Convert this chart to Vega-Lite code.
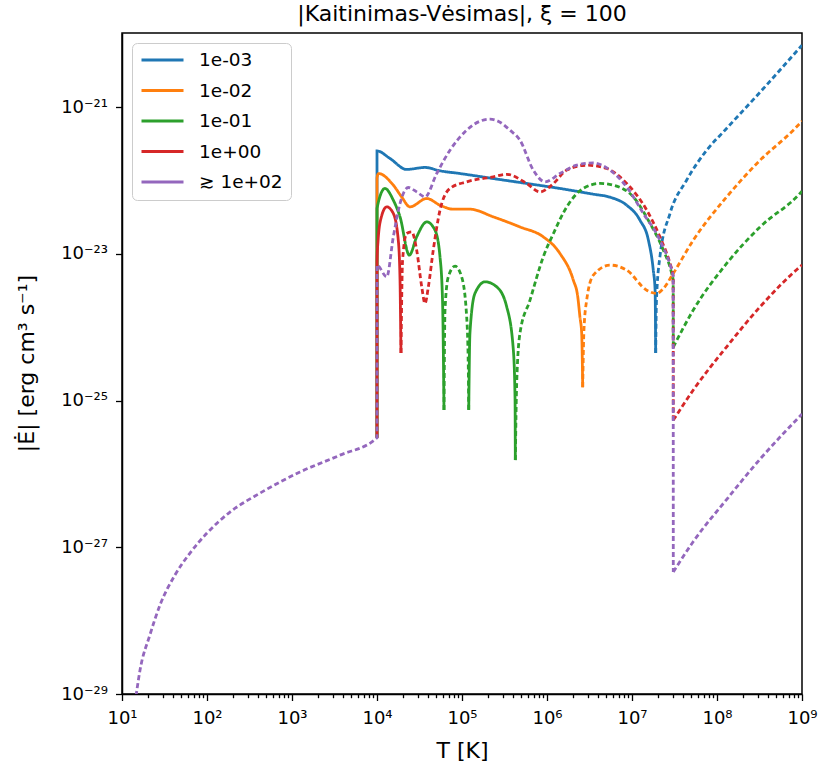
{
  "$schema": "https://vega.github.io/schema/vega-lite/v6.json",
  "width": 680,
  "height": 661,
  "autosize": {"type": "none"},
  "padding": {"left": 122, "top": 33, "right": 21, "bottom": 73},
  "config": {
    "font": "DejaVu Sans",
    "view": {"stroke": "black", "strokeWidth": 1.5},
    "axis": {"grid": false, "domainColor": "black", "domainWidth": 1.5, "tickColor": "black", "tickWidth": 1.3, "labelColor": "black", "titleColor": "black", "labelFont": "DejaVu Sans", "titleFont": "DejaVu Sans", "labelFontSize": 18, "titleFontSize": 22, "titleFontWeight": "normal", "labelOverlap": false, "labelFlush": false}
  },
  "title": {"text": "|Kaitinimas-Vėsimas|, ξ = 100", "fontSize": 22, "fontWeight": "normal", "font": "DejaVu Sans", "color": "black", "baseline": "bottom", "offset": 7, "dy": 22, "anchor": "middle", "frame": "group"},
  "data": {"values": [
    {"s":"≳ 1e+02","g":"p1","k":"dotted","i":0,"T":13.8,"E":5.7e-30},
    {"s":"≳ 1e+02","g":"p1","k":"dotted","i":1,"T":16.3,"E":2.12e-29},
    {"s":"≳ 1e+02","g":"p1","k":"dotted","i":2,"T":21.3,"E":6.37e-29},
    {"s":"≳ 1e+02","g":"p1","k":"dotted","i":3,"T":28.0,"E":1.63e-28},
    {"s":"≳ 1e+02","g":"p1","k":"dotted","i":4,"T":42.0,"E":4.18e-28},
    {"s":"≳ 1e+02","g":"p1","k":"dotted","i":5,"T":63.1,"E":8.34e-28},
    {"s":"≳ 1e+02","g":"p1","k":"dotted","i":6,"T":100,"E":1.56e-27},
    {"s":"≳ 1e+02","g":"p1","k":"dotted","i":7,"T":186.6,"E":3.02e-27},
    {"s":"≳ 1e+02","g":"p1","k":"dotted","i":8,"T":420.7,"E":5.47e-27},
    {"s":"≳ 1e+02","g":"p1","k":"dotted","i":9,"T":1241,"E":1.06e-26},
    {"s":"≳ 1e+02","g":"p1","k":"dotted","i":10,"T":3671,"E":1.8e-26},
    {"s":"≳ 1e+02","g":"p1","k":"dotted","i":11,"T":10000,"E":3.1e-26},
    {"s":"≳ 1e+02","g":"p1","k":"dotted","i":12,"T":10000,"E":7.0e-24},
    {"s":"≳ 1e+02","g":"p1","k":"dotted","i":13,"T":13000,"E":4.84e-24},
    {"s":"≳ 1e+02","g":"p1","k":"dotted","i":14,"T":15560,"E":1.7e-23},
    {"s":"≳ 1e+02","g":"p1","k":"dotted","i":15,"T":18660,"E":4.84e-23},
    {"s":"≳ 1e+02","g":"p1","k":"dotted","i":16,"T":23350,"E":8.0e-23},
    {"s":"≳ 1e+02","g":"p1","k":"dotted","i":17,"T":29300,"E":6.97e-23},
    {"s":"≳ 1e+02","g":"p1","k":"dotted","i":18,"T":36700,"E":5.96e-23},
    {"s":"≳ 1e+02","g":"p1","k":"dotted","i":19,"T":50400,"E":1.24e-22},
    {"s":"≳ 1e+02","g":"p1","k":"dotted","i":20,"T":72200,"E":2.58e-22},
    {"s":"≳ 1e+02","g":"p1","k":"dotted","i":21,"T":113500,"E":4.83e-22},
    {"s":"≳ 1e+02","g":"p1","k":"dotted","i":22,"T":163000,"E":6.41e-22},
    {"s":"≳ 1e+02","g":"p1","k":"dotted","i":23,"T":213500,"E":6.83e-22},
    {"s":"≳ 1e+02","g":"p1","k":"dotted","i":24,"T":280000,"E":6.21e-22},
    {"s":"≳ 1e+02","g":"p1","k":"dotted","i":25,"T":367000,"E":4.83e-22},
    {"s":"≳ 1e+02","g":"p1","k":"dotted","i":26,"T":481000,"E":3.53e-22},
    {"s":"≳ 1e+02","g":"p1","k":"dotted","i":27,"T":690000,"E":1.38e-22},
    {"s":"≳ 1e+02","g":"p1","k":"dotted","i":28,"T":947000,"E":9.55e-23},
    {"s":"≳ 1e+02","g":"p1","k":"dotted","i":29,"T":1420000,"E":1.24e-22},
    {"s":"≳ 1e+02","g":"p1","k":"dotted","i":30,"T":2230000,"E":1.61e-22},
    {"s":"≳ 1e+02","g":"p1","k":"dotted","i":31,"T":3510000,"E":1.73e-22},
    {"s":"≳ 1e+02","g":"p1","k":"dotted","i":32,"T":5510000,"E":1.38e-22},
    {"s":"≳ 1e+02","g":"p1","k":"dotted","i":33,"T":8660000,"E":8.15e-23},
    {"s":"≳ 1e+02","g":"p1","k":"dotted","i":34,"T":13600000,"E":3.54e-23},
    {"s":"≳ 1e+02","g":"p1","k":"dotted","i":35,"T":21300000,"E":1.53e-23},
    {"s":"≳ 1e+02","g":"p1","k":"dotted","i":36,"T":29300000,"E":5.98e-24},
    {"s":"≳ 1e+02","g":"p1","k":"dotted","i":37,"T":30500000,"E":5.0e-24},
    {"s":"≳ 1e+02","g":"p1","k":"dotted","i":38,"T":30600000,"E":4.59e-28},
    {"s":"≳ 1e+02","g":"p2","k":"dotted","i":0,"T":30600000,"E":4.59e-28},
    {"s":"≳ 1e+02","g":"p2","k":"dotted","i":1,"T":52200000,"E":1.18e-27},
    {"s":"≳ 1e+02","g":"p2","k":"dotted","i":2,"T":131000000,"E":4.54e-27},
    {"s":"≳ 1e+02","g":"p2","k":"dotted","i":3,"T":321000000,"E":1.59e-26},
    {"s":"≳ 1e+02","g":"p2","k":"dotted","i":4,"T":1000000000,"E":6.53e-26},

    {"s":"1e-03","g":"b1","k":"solid","i":0,"T":10000,"E":3.1e-26},
    {"s":"1e-03","g":"b1","k":"solid","i":1,"T":10000,"E":2.52e-22},
    {"s":"1e-03","g":"b1","k":"solid","i":2,"T":14200,"E":1.99e-22},
    {"s":"1e-03","g":"b1","k":"solid","i":3,"T":22300,"E":1.41e-22},
    {"s":"1e-03","g":"b1","k":"solid","i":4,"T":36700,"E":1.5e-22},
    {"s":"1e-03","g":"b1","k":"solid","i":5,"T":55100,"E":1.35e-22},
    {"s":"1e-03","g":"b1","k":"solid","i":6,"T":94700,"E":1.24e-22},
    {"s":"1e-03","g":"b1","k":"solid","i":7,"T":232000,"E":1.06e-22},
    {"s":"1e-03","g":"b1","k":"solid","i":8,"T":577000,"E":9.08e-23},
    {"s":"1e-03","g":"b1","k":"solid","i":9,"T":1420000,"E":7.76e-23},
    {"s":"1e-03","g":"b1","k":"solid","i":10,"T":3480000,"E":6.49e-23},
    {"s":"1e-03","g":"b1","k":"solid","i":11,"T":5510000,"E":5.9e-23},
    {"s":"1e-03","g":"b1","k":"solid","i":12,"T":8660000,"E":4.59e-23},
    {"s":"1e-03","g":"b1","k":"solid","i":13,"T":12400000,"E":2.87e-23},
    {"s":"1e-03","g":"b1","k":"solid","i":14,"T":15600000,"E":1.53e-23},
    {"s":"1e-03","g":"b1","k":"solid","i":15,"T":17800000,"E":5.98e-24},
    {"s":"1e-03","g":"b1","k":"solid","i":16,"T":18700000,"E":3.19e-24},
    {"s":"1e-03","g":"b1","k":"solid","i":17,"T":19000000,"E":4.43e-25},
    {"s":"1e-03","g":"b2","k":"dotted","i":0,"T":19000000,"E":4.43e-25},
    {"s":"1e-03","g":"b2","k":"dotted","i":1,"T":19400000,"E":2.33e-24},
    {"s":"1e-03","g":"b2","k":"dotted","i":2,"T":21300000,"E":9.08e-24},
    {"s":"1e-03","g":"b2","k":"dotted","i":3,"T":28000000,"E":3.54e-23},
    {"s":"1e-03","g":"b2","k":"dotted","i":4,"T":44000000,"E":1.01e-22},
    {"s":"1e-03","g":"b2","k":"dotted","i":5,"T":75700000,"E":2.58e-22},
    {"s":"1e-03","g":"b2","k":"dotted","i":6,"T":124000000,"E":4.83e-22},
    {"s":"1e-03","g":"b2","k":"dotted","i":7,"T":321000000,"E":1.59e-21},
    {"s":"1e-03","g":"b2","k":"dotted","i":8,"T":1000000000,"E":6.95e-21},

    {"s":"1e-02","g":"o1","k":"solid","i":0,"T":10000,"E":3.1e-26},
    {"s":"1e-02","g":"o1","k":"solid","i":1,"T":10000,"E":1.07e-22},
    {"s":"1e-02","g":"o1","k":"solid","i":2,"T":10400,"E":1.24e-22},
    {"s":"1e-02","g":"o1","k":"solid","i":3,"T":15560,"E":8.6e-23},
    {"s":"1e-02","g":"o1","k":"solid","i":4,"T":19500,"E":5.96e-23},
    {"s":"1e-02","g":"o1","k":"solid","i":5,"T":24400,"E":4.36e-23},
    {"s":"1e-02","g":"o1","k":"solid","i":6,"T":38500,"E":5.66e-23},
    {"s":"1e-02","g":"o1","k":"solid","i":7,"T":55100,"E":4.59e-23},
    {"s":"1e-02","g":"o1","k":"solid","i":8,"T":79100,"E":4.05e-23},
    {"s":"1e-02","g":"o1","k":"solid","i":9,"T":124000,"E":4.05e-23},
    {"s":"1e-02","g":"o1","k":"solid","i":10,"T":234000,"E":3.18e-23},
    {"s":"1e-02","g":"o1","k":"solid","i":11,"T":481000,"E":2.32e-23},
    {"s":"1e-02","g":"o1","k":"solid","i":12,"T":904000,"E":1.7e-23},
    {"s":"1e-02","g":"o1","k":"solid","i":13,"T":1420000,"E":1.01e-23},
    {"s":"1e-02","g":"o1","k":"solid","i":14,"T":2040000,"E":4.37e-24},
    {"s":"1e-02","g":"o1","k":"solid","i":15,"T":2300000,"E":2.6e-24},
    {"s":"1e-02","g":"o1","k":"solid","i":16,"T":2440000,"E":1.38e-24},
    {"s":"1e-02","g":"o1","k":"solid","i":17,"T":2560000,"E":8.2e-25},
    {"s":"1e-02","g":"o1","k":"solid","i":18,"T":2630000,"E":1.52e-25},
    {"s":"1e-02","g":"o2","k":"dotted","i":0,"T":2630000,"E":1.52e-25},
    {"s":"1e-02","g":"o2","k":"dotted","i":1,"T":2720000,"E":9.1e-25},
    {"s":"1e-02","g":"o2","k":"dotted","i":2,"T":2930000,"E":2.33e-24},
    {"s":"1e-02","g":"o2","k":"dotted","i":3,"T":3510000,"E":5.1e-24},
    {"s":"1e-02","g":"o2","k":"dotted","i":4,"T":5510000,"E":7.0e-24},
    {"s":"1e-02","g":"o2","k":"dotted","i":5,"T":8660000,"E":5.98e-24},
    {"s":"1e-02","g":"o2","k":"dotted","i":6,"T":14900000,"E":3.19e-24},
    {"s":"1e-02","g":"o2","k":"dotted","i":7,"T":19500000,"E":2.88e-24},
    {"s":"1e-02","g":"o2","k":"dotted","i":8,"T":23400000,"E":3.36e-24},
    {"s":"1e-02","g":"o2","k":"dotted","i":9,"T":30600000,"E":5.4e-24},
    {"s":"1e-02","g":"o2","k":"dotted","i":10,"T":52600000,"E":1.53e-23},
    {"s":"1e-02","g":"o2","k":"dotted","i":11,"T":130000000,"E":5.96e-23},
    {"s":"1e-02","g":"o2","k":"dotted","i":12,"T":321000000,"E":1.88e-22},
    {"s":"1e-02","g":"o2","k":"dotted","i":13,"T":791000000,"E":4.83e-22},
    {"s":"1e-02","g":"o2","k":"dotted","i":14,"T":1000000000,"E":6.41e-22},

    {"s":"1e-01","g":"g1","k":"solid","i":0,"T":10000,"E":3.1e-26},
    {"s":"1e-01","g":"g1","k":"solid","i":1,"T":10000,"E":4.14e-23},
    {"s":"1e-01","g":"g1","k":"solid","i":2,"T":12400,"E":7.76e-23},
    {"s":"1e-01","g":"g1","k":"solid","i":3,"T":15560,"E":5.37e-23},
    {"s":"1e-01","g":"g1","k":"solid","i":4,"T":18660,"E":3.18e-23},
    {"s":"1e-01","g":"g1","k":"solid","i":5,"T":24000,"E":9.57e-24},
    {"s":"1e-01","g":"g1","k":"solid","i":6,"T":29300,"E":1.7e-23},
    {"s":"1e-01","g":"g1","k":"solid","i":7,"T":38500,"E":2.72e-23},
    {"s":"1e-01","g":"g1","k":"solid","i":8,"T":48100,"E":2.1e-23},
    {"s":"1e-01","g":"g1","k":"solid","i":9,"T":55100,"E":9.08e-24},
    {"s":"1e-01","g":"g1","k":"solid","i":10,"T":59000,"E":2.33e-24},
    {"s":"1e-01","g":"g1","k":"solid","i":11,"T":61400,"E":7.4e-26},
    {"s":"1e-01","g":"g2","k":"dotted","i":0,"T":61400,"E":7.4e-26},
    {"s":"1e-01","g":"g2","k":"dotted","i":1,"T":63100,"E":1.71e-24},
    {"s":"1e-01","g":"g2","k":"dotted","i":2,"T":69000,"E":4.84e-24},
    {"s":"1e-01","g":"g2","k":"dotted","i":3,"T":82800,"E":6.78e-24},
    {"s":"1e-01","g":"g2","k":"dotted","i":4,"T":99100,"E":4.84e-24},
    {"s":"1e-01","g":"g2","k":"dotted","i":5,"T":113500,"E":1.38e-24},
    {"s":"1e-01","g":"g2","k":"dotted","i":6,"T":118600,"E":2.88e-25},
    {"s":"1e-01","g":"g2","k":"dotted","i":7,"T":120000,"E":7.4e-26},
    {"s":"1e-01","g":"g3","k":"solid","i":0,"T":120000,"E":7.4e-26},
    {"s":"1e-01","g":"g3","k":"solid","i":1,"T":124000,"E":8.28e-25},
    {"s":"1e-01","g":"g3","k":"solid","i":2,"T":142000,"E":2.88e-24},
    {"s":"1e-01","g":"g3","k":"solid","i":3,"T":186600,"E":4.14e-24},
    {"s":"1e-01","g":"g3","k":"solid","i":4,"T":256000,"E":3.54e-24},
    {"s":"1e-01","g":"g3","k":"solid","i":5,"T":336000,"E":1.89e-24},
    {"s":"1e-01","g":"g3","k":"solid","i":6,"T":402000,"E":4.86e-25},
    {"s":"1e-01","g":"g3","k":"solid","i":7,"T":421000,"E":1.01e-25},
    {"s":"1e-01","g":"g3","k":"solid","i":8,"T":424000,"E":1.54e-26},
    {"s":"1e-01","g":"g4","k":"dotted","i":0,"T":424000,"E":1.54e-26},
    {"s":"1e-01","g":"g4","k":"dotted","i":1,"T":440000,"E":1.73e-25},
    {"s":"1e-01","g":"g4","k":"dotted","i":2,"T":481000,"E":8.28e-25},
    {"s":"1e-01","g":"g4","k":"dotted","i":3,"T":631000,"E":2.33e-24},
    {"s":"1e-01","g":"g4","k":"dotted","i":4,"T":904000,"E":9.08e-24},
    {"s":"1e-01","g":"g4","k":"dotted","i":5,"T":1190000,"E":1.89e-23},
    {"s":"1e-01","g":"g4","k":"dotted","i":6,"T":1710000,"E":4.36e-23},
    {"s":"1e-01","g":"g4","k":"dotted","i":7,"T":2670000,"E":7.76e-23},
    {"s":"1e-01","g":"g4","k":"dotted","i":8,"T":4210000,"E":9.08e-23},
    {"s":"1e-01","g":"g4","k":"dotted","i":9,"T":6030000,"E":8.6e-23},
    {"s":"1e-01","g":"g4","k":"dotted","i":10,"T":10350000,"E":5.96e-23},
    {"s":"1e-01","g":"g4","k":"dotted","i":11,"T":16300000,"E":2.59e-23},
    {"s":"1e-01","g":"g4","k":"dotted","i":12,"T":23400000,"E":1.12e-23},
    {"s":"1e-01","g":"g4","k":"dotted","i":13,"T":29300000,"E":5.4e-24},
    {"s":"1e-01","g":"g4","k":"dotted","i":14,"T":30500000,"E":4.37e-24},
    {"s":"1e-01","g":"g4","k":"dotted","i":15,"T":30600000,"E":5.35e-25},
    {"s":"1e-01","g":"g5","k":"dotted","i":0,"T":30600000,"E":5.35e-25},
    {"s":"1e-01","g":"g5","k":"dotted","i":1,"T":52600000,"E":1.71e-24},
    {"s":"1e-01","g":"g5","k":"dotted","i":2,"T":130000000,"E":7.38e-24},
    {"s":"1e-01","g":"g5","k":"dotted","i":3,"T":321000000,"E":2.32e-23},
    {"s":"1e-01","g":"g5","k":"dotted","i":4,"T":947000000,"E":6.64e-23},
    {"s":"1e-01","g":"g5","k":"dotted","i":5,"T":1000000000,"E":7.13e-23},

    {"s":"1e+00","g":"r1","k":"solid","i":0,"T":10000,"E":3.1e-26},
    {"s":"1e+00","g":"r1","k":"solid","i":1,"T":10000,"E":7.7e-24},
    {"s":"1e+00","g":"r1","k":"solid","i":2,"T":10300,"E":1.53e-23},
    {"s":"1e+00","g":"r1","k":"solid","i":3,"T":11150,"E":3.05e-23},
    {"s":"1e+00","g":"r1","k":"solid","i":4,"T":13000,"E":4.36e-23},
    {"s":"1e+00","g":"r1","k":"solid","i":5,"T":15560,"E":3.54e-23},
    {"s":"1e+00","g":"r1","k":"solid","i":6,"T":17800,"E":1.53e-23},
    {"s":"1e+00","g":"r1","k":"solid","i":7,"T":18660,"E":4.37e-24},
    {"s":"1e+00","g":"r1","k":"solid","i":8,"T":19000,"E":9.1e-25},
    {"s":"1e+00","g":"r1","k":"solid","i":9,"T":19150,"E":4.43e-25},
    {"s":"1e+00","g":"r2","k":"dotted","i":0,"T":19150,"E":4.43e-25},
    {"s":"1e+00","g":"r2","k":"dotted","i":1,"T":20000,"E":8.18e-24},
    {"s":"1e+00","g":"r2","k":"dotted","i":2,"T":22300,"E":1.89e-23},
    {"s":"1e+00","g":"r2","k":"dotted","i":3,"T":25600,"E":1.99e-23},
    {"s":"1e+00","g":"r2","k":"dotted","i":4,"T":29300,"E":1.12e-23},
    {"s":"1e+00","g":"r2","k":"dotted","i":5,"T":33600,"E":3.54e-24},
    {"s":"1e+00","g":"r2","k":"dotted","i":6,"T":36700,"E":2.1e-24},
    {"s":"1e+00","g":"r2","k":"dotted","i":7,"T":40200,"E":3.54e-24},
    {"s":"1e+00","g":"r2","k":"dotted","i":8,"T":45900,"E":1.12e-23},
    {"s":"1e+00","g":"r2","k":"dotted","i":9,"T":55100,"E":3.93e-23},
    {"s":"1e+00","g":"r2","k":"dotted","i":10,"T":72200,"E":7.76e-23},
    {"s":"1e+00","g":"r2","k":"dotted","i":11,"T":113500,"E":9.55e-23},
    {"s":"1e+00","g":"r2","k":"dotted","i":12,"T":234000,"E":1.12e-22},
    {"s":"1e+00","g":"r2","k":"dotted","i":13,"T":336000,"E":1.21e-22},
    {"s":"1e+00","g":"r2","k":"dotted","i":14,"T":577000,"E":9.08e-23},
    {"s":"1e+00","g":"r2","k":"dotted","i":15,"T":828000,"E":6.97e-23},
    {"s":"1e+00","g":"r2","k":"dotted","i":16,"T":1135000,"E":8.6e-23},
    {"s":"1e+00","g":"r2","k":"dotted","i":17,"T":1710000,"E":1.38e-22},
    {"s":"1e+00","g":"r2","k":"dotted","i":18,"T":2930000,"E":1.61e-22},
    {"s":"1e+00","g":"r2","k":"dotted","i":19,"T":5040000,"E":1.45e-22},
    {"s":"1e+00","g":"r2","k":"dotted","i":20,"T":8660000,"E":9.08e-23},
    {"s":"1e+00","g":"r2","k":"dotted","i":21,"T":14900000,"E":3.93e-23},
    {"s":"1e+00","g":"r2","k":"dotted","i":22,"T":21300000,"E":1.7e-23},
    {"s":"1e+00","g":"r2","k":"dotted","i":23,"T":28000000,"E":7.38e-24},
    {"s":"1e+00","g":"r2","k":"dotted","i":24,"T":29900000,"E":5.61e-24},
    {"s":"1e+00","g":"r2","k":"dotted","i":25,"T":30500000,"E":4.8e-24},
    {"s":"1e+00","g":"r2","k":"dotted","i":26,"T":30600000,"E":5.4e-26},
    {"s":"1e+00","g":"r3","k":"dotted","i":0,"T":30600000,"E":5.4e-26},
    {"s":"1e+00","g":"r3","k":"dotted","i":1,"T":52600000,"E":1.39e-25},
    {"s":"1e+00","g":"r3","k":"dotted","i":2,"T":130000000,"E":5.4e-25},
    {"s":"1e+00","g":"r3","k":"dotted","i":3,"T":321000000,"E":1.89e-24},
    {"s":"1e+00","g":"r3","k":"dotted","i":4,"T":947000000,"E":6.64e-24},
    {"s":"1e+00","g":"r3","k":"dotted","i":5,"T":1000000000,"E":7.0e-24}
  ]},
  "encoding": {
    "x": {"field": "T", "type": "quantitative",
      "scale": {"type": "log", "domain": [10, 1000000000], "nice": false},
      "axis": {
        "title": "T [K]", "titleX": 340, "titleY": 63, "titleBaseline": "alphabetic", "titleAlign": "center",
        "values": [1e1,2e1,3e1,4e1,5e1,6e1,7e1,8e1,9e1,1e2,2e2,3e2,4e2,5e2,6e2,7e2,8e2,9e2,1e3,2e3,3e3,4e3,5e3,6e3,7e3,8e3,9e3,1e4,2e4,3e4,4e4,5e4,6e4,7e4,8e4,9e4,1e5,2e5,3e5,4e5,5e5,6e5,7e5,8e5,9e5,1e6,2e6,3e6,4e6,5e6,6e6,7e6,8e6,9e6,1e7,2e7,3e7,4e7,5e7,6e7,7e7,8e7,9e7,1e8,2e8,3e8,4e8,5e8,6e8,7e8,8e8,9e8,1e9],
        "labelExpr": "datum.value==1e1?'10¹':datum.value==1e2?'10²':datum.value==1e3?'10³':datum.value==1e4?'10⁴':datum.value==1e5?'10⁵':datum.value==1e6?'10⁶':datum.value==1e7?'10⁷':datum.value==1e8?'10⁸':datum.value==1e9?'10⁹':''",
        "tickSize": {"condition": {"test": "indexof([1e1,1e2,1e3,1e4,1e5,1e6,1e7,1e8,1e9], datum.value) >= 0", "value": 6.5}, "value": 3.7},
        "labelPadding": 9
      }
    },
    "y": {"field": "E", "type": "quantitative",
      "scale": {"type": "log", "domain": [1e-29, 1.02e-20], "nice": false},
      "axis": {
        "title": "|Ė| [erg cm³ s⁻¹]", "titleX": -89, "titleY": 330, "titleAngle": -90, "titleBaseline": "alphabetic", "titleAlign": "center",
        "values": [1e-29, 1e-27, 1e-25, 1e-23, 1e-21],
        "labelExpr": "datum.value==1e-29?'10⁻²⁹':datum.value==1e-27?'10⁻²⁷':datum.value==1e-25?'10⁻²⁵':datum.value==1e-23?'10⁻²³':datum.value==1e-21?'10⁻²¹':''",
        "tickSize": 6.5, "labelPadding": 8
      }
    },
    "color": {"field": "s", "type": "nominal",
      "scale": {"domain": ["1e-03", "1e-02", "1e-01", "1e+00", "≳ 1e+02"], "range": ["#1f77b4", "#ff7f0e", "#2ca02c", "#d62728", "#9467bd"]},
      "legend": {"title": null, "orient": "none", "legendX": 10, "legendY": 10, "symbolType": "stroke", "symbolStrokeWidth": 3, "symbolSize": 1764, "clipHeight": 18, "rowPadding": 11.5, "padding": 8, "labelFontSize": 18.5, "labelFont": "DejaVu Sans", "labelColor": "black", "labelOffset": 14, "fillColor": "white", "strokeColor": "#cccccc", "cornerRadius": 5}
    },
    "strokeDash": {"field": "k", "type": "nominal", "scale": {"domain": ["solid", "dotted"], "range": [[1, 0], [5, 3]]}, "legend": null},
    "detail": {"field": "g", "type": "nominal"},
    "order": {"field": "i", "type": "quantitative"}
  },
  "layer": [
    {"transform": [{"filter": "datum.s == '1e-03'"}], "mark": {"type": "line", "strokeWidth": 2.8, "clip": true, "interpolate": "monotone"}},
    {"transform": [{"filter": "datum.s == '1e-02'"}], "mark": {"type": "line", "strokeWidth": 2.8, "clip": true, "interpolate": "monotone"}},
    {"transform": [{"filter": "datum.s == '1e-01'"}], "mark": {"type": "line", "strokeWidth": 2.8, "clip": true, "interpolate": "monotone"}},
    {"transform": [{"filter": "datum.s == '1e+00'"}], "mark": {"type": "line", "strokeWidth": 2.8, "clip": true, "interpolate": "monotone"}},
    {"transform": [{"filter": "datum.s == '≳ 1e+02'"}], "mark": {"type": "line", "strokeWidth": 2.8, "clip": true, "interpolate": "monotone"}}
  ]
}
